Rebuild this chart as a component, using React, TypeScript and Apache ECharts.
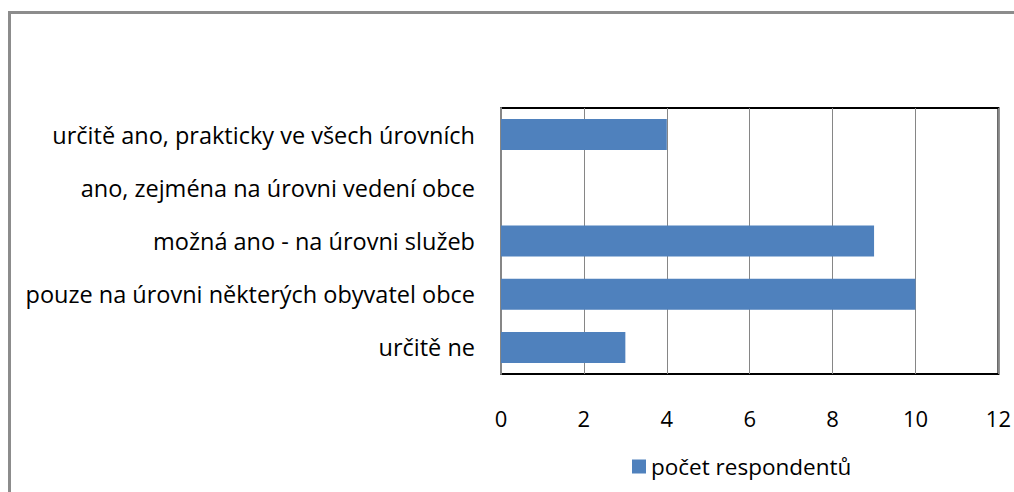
import React, { useEffect, useRef } from "react";
import * as echarts from "echarts";

const categories = [
  "určitě ano, prakticky ve všech úrovních",
  "ano, zejména na úrovni vedení obce",
  "možná ano - na úrovni služeb",
  "pouze na úrovni některých obyvatel obce",
  "určitě ne",
];
const values = [4, 0, 9, 10, 3];
const seriesName = "počet respondentů";
const axisMin = 0;
const axisMax = 12;
const axisStep = 2;

export default function App() {
  const ref = useRef<HTMLDivElement>(null);
  useEffect(() => {
    if (!ref.current) return;
    const chart = echarts.init(ref.current, null, { renderer: "svg" });
    const font = "'Open Sans', Lato, sans-serif";
    chart.setOption({
      animation: false,
      backgroundColor: "#fff",
      graphic: [
        {
          type: "rect",
          shape: { x: 9.5, y: 12.5, width: 1020, height: 500 },
          style: { fill: "none", stroke: "#8c8c8c", lineWidth: 3 },
          silent: true,
        },
      ],
      grid: {
        left: 501,
        right: 13,
        top: 108,
        bottom: 118,
        show: true,
        borderColor: "#000",
        borderWidth: 2,
      },
      legend: {
        left: 627,
        top: 450,
        itemWidth: 14,
        itemHeight: 14,
        itemGap: 8,
        icon: "rect",
        textStyle: { fontFamily: font, fontSize: 22.5, color: "#000" },
        data: [seriesName],
      },
      xAxis: {
        type: "value",
        min: axisMin,
        max: axisMax,
        interval: axisStep,
        axisLine: { show: false },
        axisTick: { show: false },
        splitLine: { show: true, lineStyle: { color: "#868686", width: 1 } },
        axisLabel: { fontFamily: font, fontSize: 22, color: "#000", margin: 33 },
      },
      yAxis: {
        type: "category",
        inverse: true,
        data: categories,
        axisLine: { show: true, lineStyle: { color: "#868686", width: 2 } },
        axisTick: { show: false },
        axisLabel: { fontFamily: font, fontSize: 23.5, color: "#000", margin: 26 },
      },
      series: [
        {
          name: seriesName,
          type: "bar",
          data: values,
          barWidth: 31,
          itemStyle: { color: "#4f81bd" },
        },
      ],
    });
    return () => chart.dispose();
  }, []);
  return (
    <div
      ref={ref}
      style={{ position: "fixed", left: 0, top: 0, width: 1014, height: 492 }}
    />
  );
}
